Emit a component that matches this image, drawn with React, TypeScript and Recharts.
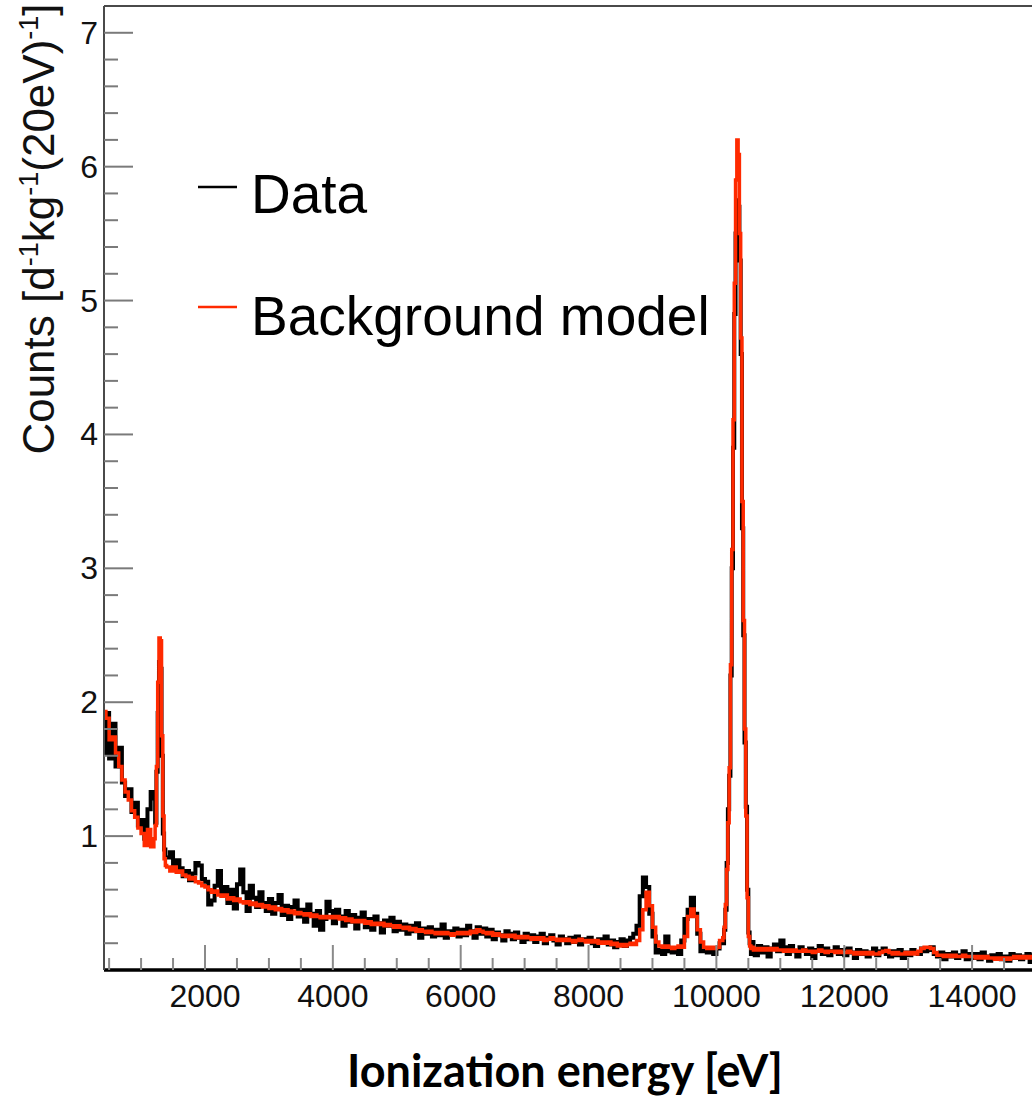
import React from "react";
import { LineChart, Line, XAxis, YAxis, ReferenceLine } from "recharts";

const WIDTH = 1040;
const HEIGHT = 1097;
const PLOT_LEFT = 104;
const PLOT_BOTTOM = 970;
const SANS = '"Liberation Sans", Arial, Helvetica, sans-serif';
const RED = "#ff2a00";

// 400 - 1200 eV, 50 eV bins
const DATA_A = [1.62, 1.92, 1.58, 1.84, 1.52, 1.66, 1.40, 1.30, 1.35, 1.18, 1.25, 1.08, 1.12, 0.98, 1.20, 1.33];
const MODEL_A = [1.93, 1.88, 1.72, 1.74, 1.62, 1.52, 1.42, 1.33, 1.27, 1.19, 1.14, 1.06, 1.02, 0.93, 1.05, 0.92];

// 1200 - 1400 eV, 20 eV bins (1.3 keV line)
const DATA_B = [1.28, 1.10, 1.48, 1.92, 2.30, 2.25, 1.60, 1.02, 0.90, 0.84];
const MODEL_B = [0.98, 1.08, 1.52, 2.15, 2.48, 2.46, 1.75, 1.15, 0.83, 0.78];

// 1400 - 10100 eV, 50 eV bins
const DATA_C = [
  0.84, 0.88, 0.79, 0.82, 0.76, 0.70, 0.74, 0.67, 0.72, 0.80, 0.78, 0.68,
  0.66, 0.49, 0.52, 0.63, 0.74, 0.58, 0.62, 0.50, 0.60, 0.46, 0.64, 0.75, 0.58, 0.44, 0.63, 0.54, 0.47, 0.58, 0.50, 0.44,
  0.53, 0.42, 0.50, 0.56, 0.41, 0.48, 0.38, 0.47, 0.52, 0.40, 0.45, 0.36, 0.49, 0.42, 0.33, 0.44, 0.30, 0.38, 0.51, 0.44,
  0.35, 0.45, 0.40, 0.33, 0.44, 0.36, 0.41, 0.31, 0.39, 0.43, 0.32, 0.38, 0.30, 0.40, 0.35, 0.28, 0.37, 0.33, 0.39, 0.29,
  0.36, 0.30, 0.34, 0.27, 0.33, 0.29, 0.35, 0.24, 0.31, 0.27, 0.32, 0.25, 0.30, 0.26, 0.34, 0.24, 0.29, 0.27, 0.31, 0.25,
  0.30, 0.26, 0.33, 0.29, 0.24, 0.32, 0.27, 0.31, 0.25, 0.30, 0.23, 0.28, 0.26, 0.22, 0.29, 0.27, 0.23, 0.28, 0.24, 0.21,
  0.27, 0.23, 0.26, 0.21, 0.25, 0.27, 0.20, 0.24, 0.26, 0.22, 0.19, 0.25, 0.23, 0.20, 0.24, 0.21, 0.25, 0.19, 0.23, 0.22,
  0.24, 0.20, 0.18, 0.23, 0.21, 0.25, 0.19, 0.22, 0.17, 0.21, 0.23, 0.18, 0.22, 0.24, 0.27, 0.33, 0.55, 0.69, 0.62, 0.42,
  0.25, 0.13, 0.15, 0.12, 0.25, 0.14, 0.13, 0.16, 0.12, 0.22, 0.38, 0.45, 0.54, 0.42, 0.27, 0.14, 0.15, 0.13, 0.14, 0.12,
  0.16, 0.20,
];
const MODEL_C = [
  0.77, 0.74, 0.77, 0.73, 0.74, 0.71, 0.70, 0.68, 0.69, 0.66, 0.65, 0.63,
  0.62, 0.60, 0.58, 0.59, 0.56, 0.55, 0.56, 0.53, 0.54, 0.52, 0.53, 0.51, 0.50, 0.51, 0.49, 0.50, 0.48, 0.49, 0.47, 0.48,
  0.46, 0.47, 0.45, 0.46, 0.44, 0.45, 0.43, 0.44, 0.42, 0.43, 0.42, 0.41, 0.42, 0.40, 0.41, 0.40, 0.39, 0.40, 0.39, 0.40,
  0.39, 0.40, 0.38, 0.39, 0.37, 0.38, 0.36, 0.37, 0.36, 0.37, 0.35, 0.36, 0.34, 0.35, 0.34, 0.35, 0.33, 0.34, 0.33, 0.32,
  0.33, 0.32, 0.31, 0.32, 0.30, 0.31, 0.29, 0.30, 0.29, 0.28, 0.29, 0.28, 0.27, 0.28, 0.27, 0.28, 0.27, 0.26, 0.27, 0.28,
  0.27, 0.28, 0.27, 0.29, 0.28, 0.30, 0.29, 0.28, 0.27, 0.28, 0.26, 0.27, 0.26, 0.25, 0.26, 0.25, 0.26, 0.24, 0.25, 0.24,
  0.25, 0.24, 0.23, 0.24, 0.23, 0.24, 0.22, 0.23, 0.24, 0.23, 0.22, 0.23, 0.22, 0.23, 0.22, 0.21, 0.22, 0.23, 0.22, 0.21,
  0.22, 0.21, 0.22, 0.20, 0.21, 0.20, 0.21, 0.19, 0.20, 0.18, 0.19, 0.18, 0.19, 0.20, 0.19, 0.22, 0.30, 0.45, 0.58, 0.48,
  0.32, 0.21, 0.18, 0.17, 0.18, 0.17, 0.16, 0.17, 0.18, 0.17, 0.25, 0.40, 0.455, 0.40, 0.30, 0.21, 0.17, 0.16, 0.17, 0.16,
  0.17, 0.22,
];

// 10100 - 10600 eV, 20 eV bins (10.3 keV line)
const DATA_D = [0.20, 0.30, 0.45, 0.80, 1.20, 1.45, 2.20, 3.00, 3.90, 4.90, 5.50, 5.75, 5.70, 5.30, 4.60, 3.30, 2.50, 1.70, 1.22, 0.60, 0.28, 0.20, 0.12, 0.21, 0.14];
const MODEL_D = [0.24, 0.32, 0.49, 0.75, 1.10, 1.51, 2.28, 3.14, 4.11, 5.13, 5.90, 6.20, 6.09, 5.50, 4.72, 3.50, 2.61, 1.80, 1.15, 0.54, 0.25, 0.18, 0.16, 0.17, 0.15];

// 10600 - 15000 eV, 50 eV bins
const DATA_E = [
  0.11, 0.18, 0.13, 0.17, 0.10, 0.16, 0.19, 0.14,
  0.22, 0.17, 0.12, 0.18, 0.14, 0.10, 0.17, 0.15, 0.12, 0.16, 0.09, 0.15, 0.18, 0.12, 0.16, 0.11, 0.14, 0.17, 0.12, 0.15,
  0.11, 0.16, 0.13, 0.09, 0.15, 0.12, 0.14, 0.10, 0.13, 0.16, 0.11, 0.14, 0.16, 0.12, 0.10, 0.14, 0.11, 0.15, 0.09, 0.13,
  0.11, 0.15, 0.13, 0.12, 0.16, 0.14, 0.15, 0.17, 0.12, 0.10, 0.13, 0.08, 0.12, 0.10, 0.13, 0.09, 0.11, 0.14, 0.08, 0.12,
  0.09, 0.12, 0.08, 0.13, 0.10, 0.07, 0.11, 0.09, 0.12, 0.08, 0.10, 0.07, 0.12, 0.09, 0.11, 0.08, 0.10, 0.12, 0.06, 0.11,
];
const MODEL_E = [
  0.16, 0.15, 0.16, 0.15, 0.16, 0.15, 0.16, 0.15,
  0.15, 0.14, 0.15, 0.14, 0.15, 0.14, 0.14, 0.15, 0.14, 0.14, 0.13, 0.14, 0.15, 0.14, 0.13, 0.14, 0.14, 0.13, 0.14, 0.13,
  0.13, 0.14, 0.13, 0.12, 0.13, 0.12, 0.13, 0.12, 0.13, 0.12, 0.12, 0.13, 0.14, 0.145, 0.13, 0.12, 0.13, 0.12, 0.12, 0.13,
  0.12, 0.13, 0.12, 0.14, 0.16, 0.17, 0.17, 0.16, 0.13, 0.11, 0.11, 0.10, 0.11, 0.10, 0.11, 0.10, 0.10, 0.11, 0.10, 0.10,
  0.10, 0.09, 0.10, 0.09, 0.10, 0.09, 0.09, 0.08, 0.09, 0.08, 0.09, 0.08, 0.09, 0.10, 0.09, 0.10, 0.09, 0.10, 0.09, 0.10,
];

const SEGMENTS = [
  { start: 400, width: 50, data: DATA_A, model: MODEL_A },
  { start: 1200, width: 20, data: DATA_B, model: MODEL_B },
  { start: 1400, width: 50, data: DATA_C, model: MODEL_C },
  { start: 10100, width: 20, data: DATA_D, model: MODEL_D },
  { start: 10600, width: 50, data: DATA_E, model: MODEL_E },
];
const X_END = 15000;

const Y_MAJOR = [1, 2, 3, 4, 5, 6, 7];
const Y_MINOR = [
  0.2, 0.4, 0.6, 0.8, 1.2, 1.4, 1.6, 1.8, 2.2, 2.4, 2.6, 2.8, 3.2, 3.4, 3.6, 3.8,
  4.2, 4.4, 4.6, 4.8, 5.2, 5.4, 5.6, 5.8, 6.2, 6.4, 6.6, 6.8,
];
const X_MAJOR = [2000, 4000, 6000, 8000, 10000, 12000, 14000];
const X_MINOR = [
  500, 1000, 1500, 2500, 3000, 3500, 4500, 5000, 5500, 6500, 7000, 7500, 8500, 9000,
  9500, 10500, 11000, 11500, 12500, 13000, 13500, 14500,
];

const rows = SEGMENTS.flatMap((s) =>
  s.data.map((d, i) => ({ e: s.start + i * s.width, data: d, model: s.model[i] }))
);
rows.push({ e: X_END, data: rows[rows.length - 1].data, model: rows[rows.length - 1].model });

function YTick(props: any) {
  const v = props.payload.value;
  const y = props.payload.coordinate ?? props.y;
  const major = Y_MAJOR.includes(v);
  return (
    <g>
      <line x1={PLOT_LEFT} x2={PLOT_LEFT + (major ? 29 : 14)} y1={y} y2={y} stroke="#7a7a7a" strokeWidth={2} />
      {major && (
        <text x={98} y={y + 11} textAnchor="end" fontSize={32} fontFamily={SANS} fill="#111">
          {v}
        </text>
      )}
    </g>
  );
}

function XTick(props: any) {
  const v = props.payload.value;
  const x = props.payload.coordinate ?? props.x;
  const major = X_MAJOR.includes(v);
  return (
    <g>
      <line x1={x} x2={x} y1={PLOT_BOTTOM} y2={PLOT_BOTTOM - (major ? 25 : 12)} stroke="#8a8a8a" strokeWidth={2} />
      {major && (
        <text x={x} y={1007} textAnchor="middle" fontSize={32} fontFamily={SANS} fill="#111">
          {v}
        </text>
      )}
    </g>
  );
}

const sup = { fontSize: 27 };

function YTitle() {
  return (
    <text
      transform="translate(54, 229) rotate(-90)"
      textAnchor="middle"
      fontSize={44}
      fontFamily={SANS}
      fill="#111"
    >
      <tspan>Counts [d</tspan>
      <tspan dy={-16} {...sup}>-1</tspan>
      <tspan dy={16}>kg</tspan>
      <tspan dy={-16} {...sup}>-1</tspan>
      <tspan dy={16}>(20eV)</tspan>
      <tspan dy={-16} {...sup}>-1</tspan>
      <tspan dy={16}>]</tspan>
    </text>
  );
}

function XTitle() {
  return (
    <text x={565} y={1087} textAnchor="middle" fontSize={45} fontWeight={700} fontFamily="Lato, sans-serif" fill="#000">
      Ionization energy [eV]
    </text>
  );
}

export default function App() {
  return (
    <div
      style={{
        position: "absolute",
        left: 0,
        top: 0,
        width: 1032,
        height: 1097,
        overflow: "hidden",
        background: "#fff",
      }}
    >
      <LineChart width={WIDTH} height={HEIGHT} data={rows} margin={{ top: 6, right: 4, left: 0, bottom: 0 }}>
        <XAxis
          dataKey="e"
          type="number"
          domain={[420, X_END]}
          allowDataOverflow
          ticks={[...X_MINOR, ...X_MAJOR].sort((a, b) => a - b)}
          interval={0}
          height={127}
          tickSize={0}
          tickMargin={0}
          tickLine={false}
          axisLine={{ stroke: "#000", strokeWidth: 3.5 }}
          tick={(p: any) => <XTick {...p} />}
          label={{ content: () => <XTitle /> }}
        />
        <YAxis
          type="number"
          domain={[0, 7.2]}
          allowDataOverflow
          ticks={[...Y_MINOR, ...Y_MAJOR].sort((a, b) => a - b)}
          interval={0}
          width={104}
          tickSize={0}
          tickMargin={0}
          tickLine={false}
          axisLine={{ stroke: "#4a4a4a", strokeWidth: 2 }}
          tick={(p: any) => <YTick {...p} />}
          label={{ content: () => <YTitle /> }}
        />
        <ReferenceLine y={7.2} stroke="#4a4a4a" strokeWidth={2} />
        <Line
          type="stepAfter"
          dataKey="data"
          stroke="#000"
          strokeWidth={4}
          dot={false}
          activeDot={false}
          isAnimationActive={false}
        />
        <Line
          type="stepAfter"
          dataKey="model"
          stroke={RED}
          strokeWidth={3.5}
          dot={false}
          activeDot={false}
          isAnimationActive={false}
        />
        <g>
          <line x1={198} x2={237} y1={187} y2={187} stroke="#000" strokeWidth={2.5} />
          <text x={251} y={213} fontSize={55} fontFamily={SANS} fill="#000">
            Data
          </text>
          <line x1={198} x2={237} y1={307} y2={307} stroke={RED} strokeWidth={2.5} />
          <text x={251} y={335} fontSize={55} fontFamily={SANS} fill="#000">
            Background model
          </text>
        </g>
      </LineChart>
    </div>
  );
}
